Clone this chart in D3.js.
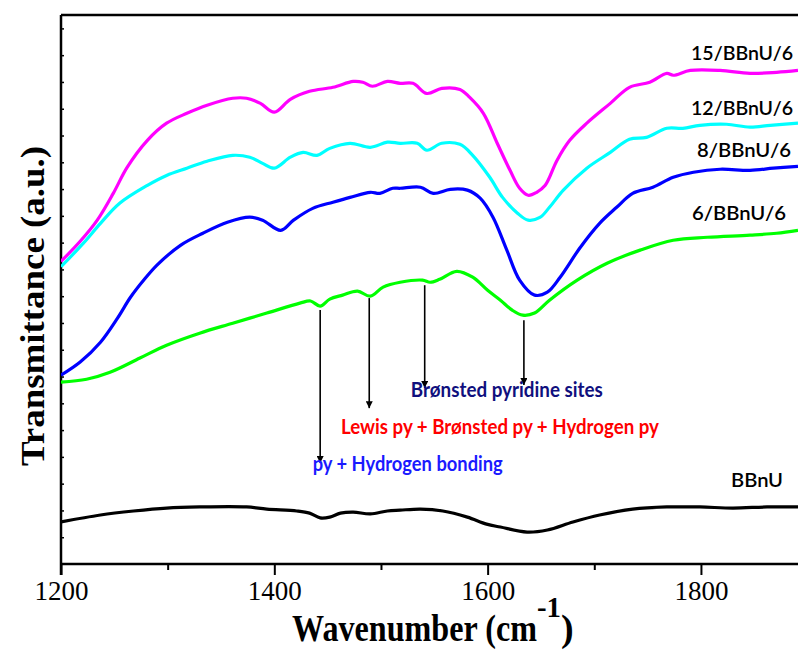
<!DOCTYPE html>
<html>
<head>
<meta charset="utf-8">
<script src="https://cdn.jsdelivr.net/npm/d3@7"></script>
<style>
  html, body { margin: 0; padding: 0; background: #fff; }
  svg { display: block; }
</style>
</head>
<body>
<svg id="chart" width="798" height="650"></svg>
<script>
// ---- Data (wavenumber in cm^-1, transmittance in arbitrary offset units) ----
const xTicksMajor = [1200, 1400, 1600, 1800];
const xTicksMinor = [1300, 1500, 1700];
const yTicks = d3.range(1, 21);

const wn15 = [1200,1218,1234,1249,1262,1281,1299,1318,1337,1361,1374,1387,1400,1415,1433,1455,1474,1483,1492,1506,1518,1530,1543,1557,1574,1583,1596,1609,1621,1630,1638,1646,1654,1665,1677,1693,1715,1733,1752,1768,1774,1790,1818,1846,1871,1891];
const t15  = [11.3,12.05,12.84,13.84,14.81,15.82,16.46,16.83,17.13,17.39,17.39,17.20,16.87,17.35,17.65,17.80,18.02,17.99,17.84,18.02,17.95,17.95,17.57,17.76,17.72,17.43,16.83,15.71,14.70,14.03,13.77,13.88,14.14,15.07,15.82,16.46,17.20,17.80,17.99,18.32,18.25,18.43,18.43,18.32,18.36,18.43];

const wn12 = [1200,1221,1237,1255,1281,1299,1318,1337,1361,1377,1389,1400,1415,1427,1440,1452,1471,1490,1506,1518,1534,1543,1557,1574,1586,1602,1614,1628,1638,1649,1658,1671,1693,1715,1733,1749,1768,1783,1799,1824,1846,1865,1891];
const t12  = [11.10,11.98,12.72,13.47,14.14,14.51,14.78,15.04,15.26,15.19,14.96,14.78,15.19,15.37,15.26,15.52,15.71,15.56,15.75,15.71,15.71,15.45,15.71,15.67,15.26,14.44,13.69,13.10,12.84,12.94,13.32,13.96,14.78,15.37,15.86,15.93,16.27,16.27,16.38,16.42,16.31,16.38,16.46];

const wn8 = [1200,1218,1237,1253,1265,1278,1290,1312,1333,1356,1377,1389,1406,1418,1436,1455,1471,1490,1499,1511,1518,1537,1549,1565,1581,1593,1605,1618,1630,1644,1656,1668,1687,1705,1721,1736,1755,1774,1793,1818,1846,1868,1891];
const t8  = [7.05,7.54,8.28,9.18,9.95,10.62,11.16,11.90,12.35,12.76,12.95,12.84,12.46,12.84,13.28,13.51,13.69,13.88,13.84,14.03,14.03,14.07,13.84,13.99,13.96,13.66,12.95,11.72,10.60,10.04,10.15,10.71,11.83,12.72,13.32,13.84,14.07,14.44,14.63,14.74,14.70,14.78,14.85];

const wn6 = [1200,1224,1246,1274,1299,1330,1361,1393,1424,1434,1443,1452,1464,1478,1490,1502,1518,1539,1546,1555,1571,1586,1600,1612,1623,1633,1644,1658,1684,1712,1743,1774,1806,1846,1871,1891];
const t6  = [6.79,6.90,7.16,7.69,8.17,8.62,8.99,9.37,9.74,9.82,9.63,9.89,10.04,10.19,10.00,10.34,10.52,10.60,10.52,10.63,10.93,10.71,10.22,9.85,9.48,9.29,9.37,9.85,10.60,11.23,11.72,12.09,12.20,12.28,12.35,12.46];

const wn0 = [1200,1237,1268,1299,1330,1374,1393,1421,1433,1443,1452,1462,1474,1490,1506,1518,1537,1558,1581,1599,1612,1637,1656,1680,1705,1736,1768,1799,1830,1862,1891];
const t0  = [1.57,1.83,1.98,2.09,2.13,2.13,2.05,1.98,1.90,1.72,1.75,1.90,1.94,1.87,1.98,2.01,2.05,1.98,1.75,1.49,1.38,1.19,1.27,1.57,1.83,2.05,2.13,2.13,2.09,2.13,2.13];

const seriesNames  = ["15/BBnU/6", "12/BBnU/6", "8/BBnU/6", "6/BBnU/6", "BBnU"];
const seriesColors = ["#ff00ff", "#00ffff", "#0000ff", "#00ff00", "#000000"];

// Annotation arrows (wavenumber, start value, end value)
const arrowWN    = [1443, 1489, 1541, 1634];
const arrowStart = [9.48, 9.93, 10.41, 9.10];
const arrowEnd   = [3.77, 5.82, 6.57, 6.68];

const annoTexts  = ["Brønsted pyridine sites", "Lewis py + Brønsted py + Hydrogen py", "py + Hydrogen bonding"];
const annoColors = ["#10107e", "#ff0000", "#1a1aff"];
const annoWN     = [1528, 1462.5, 1436];
const annoVal    = [6.22, 4.84, 3.46];
const annoWidth  = [192, 318, 190];

// ---- Layout ----
const svg = d3.select("#chart");
const L = 61, R = 798, T = 15, B = 564;
const x = d3.scaleLinear().domain([1200, 1891]).range([L, R]);
const y = d3.scaleLinear().domain([0, 20.5]).range([B, T]);

// Axes
const xAxisMajor = d3.axisBottom(x).tickValues(xTicksMajor).tickSize(11).tickPadding(4).tickFormat(d3.format("d"));
const gx = svg.append("g").attr("transform", `translate(0,${B})`).call(xAxisMajor);
gx.select(".domain").remove();
gx.selectAll(".tick line").attr("stroke", "#000").attr("stroke-width", 2);
gx.selectAll(".tick text").attr("font-family", "'Liberation Serif', 'Times New Roman', serif")
  .attr("font-size", 27).attr("fill", "#000").attr("dy", "0.78em");

const gxm = svg.append("g").attr("transform", `translate(0,${B})`)
  .call(d3.axisBottom(x).tickValues(xTicksMinor).tickSize(6).tickFormat(""));
gxm.select(".domain").remove();
gxm.selectAll(".tick line").attr("stroke", "#000").attr("stroke-width", 2);

const gy = svg.append("g").attr("transform", `translate(${L},0)`)
  .call(d3.axisRight(y).tickValues(yTicks).tickSize(3).tickFormat(""));
gy.select(".domain").remove();
gy.selectAll(".tick line").attr("stroke", "#000").attr("stroke-width", 1.5);

// Frame lines (left, bottom, top)
svg.append("line").attr("x1", L).attr("x2", L).attr("y1", T).attr("y2", B + 11).attr("stroke", "#000").attr("stroke-width", 2.5);
svg.append("line").attr("x1", L).attr("x2", R).attr("y1", B).attr("y2", B).attr("stroke", "#000").attr("stroke-width", 2.5);
svg.append("line").attr("x1", L).attr("x2", R).attr("y1", T).attr("y2", T).attr("stroke", "#000").attr("stroke-width", 2.5);

// Curves
const seriesWN = [wn15, wn12, wn8, wn6, wn0];
const seriesT  = [t15, t12, t8, t6, t0];
const line = d3.line().x(d => x(d[0])).y(d => y(d[1])).curve(d3.curveCatmullRom.alpha(0.5));
svg.append("clipPath").attr("id", "plotclip").append("rect")
  .attr("x", L).attr("y", T).attr("width", R - L).attr("height", B - T);
seriesWN.forEach((wns, i) => {
  const pts = wns.map((w, j) => [w, seriesT[i][j]]);
  svg.append("path").datum(pts).attr("d", line)
    .attr("fill", "none").attr("stroke", seriesColors[i]).attr("stroke-width", 3.2)
    .attr("stroke-linejoin", "round").attr("clip-path", "url(#plotclip)");
});

// Series labels
const labelX = [691, 691, 697, 692, 731];
const labelY = [60, 115, 157, 220, 487];
const labelW = [102, 102, 94, 94, 52];
seriesNames.forEach((n, i) => {
  svg.append("text").attr("x", labelX[i]).attr("y", labelY[i])
    .attr("font-family", "Lato, 'Open Sans', sans-serif").attr("font-size", 20).attr("font-weight", 600)
    .attr("fill", "#000").attr("textLength", labelW[i]).attr("lengthAdjust", "spacingAndGlyphs")
    .text(n);
});

// Arrows
const defs = svg.append("defs");
defs.append("marker").attr("id", "arrowhead").attr("viewBox", "0 0 10 10")
  .attr("refX", 10).attr("refY", 5).attr("markerWidth", 13).attr("markerHeight", 7)
  .attr("markerUnits", "userSpaceOnUse").attr("orient", "auto")
  .append("path").attr("d", "M0,0 L10,5 L0,10 Z").attr("fill", "#000");
arrowWN.forEach((w, i) => {
  svg.append("line").attr("x1", x(w)).attr("x2", x(w))
    .attr("y1", y(arrowStart[i])).attr("y2", y(arrowEnd[i]))
    .attr("stroke", "#000").attr("stroke-width", 1.6)
    .attr("marker-end", "url(#arrowhead)");
});

// Annotation texts
annoTexts.forEach((t, i) => {
  svg.append("text").attr("x", x(annoWN[i])).attr("y", y(annoVal[i]))
    .attr("font-family", "Lato, 'Open Sans', sans-serif").attr("font-size", 20).attr("font-weight", "bold")
    .attr("fill", annoColors[i]).attr("textLength", annoWidth[i]).attr("lengthAdjust", "spacingAndGlyphs")
    .text(t);
});

// Axis titles
const serif = "'Liberation Serif', 'Times New Roman', serif";
const xt = svg.append("text").attr("x", 292).attr("y", 641)
  .attr("font-family", serif).attr("font-weight", "bold").attr("fill", "#000");
xt.append("tspan").attr("font-size", 38).attr("textLength", 245).attr("lengthAdjust", "spacingAndGlyphs").text("Wavenumber (cm");
xt.append("tspan").attr("font-size", 30).attr("dy", -24).attr("textLength", 24).attr("lengthAdjust", "spacingAndGlyphs").text("-1");
xt.append("tspan").attr("font-size", 38).attr("dy", 24).text(")");

svg.append("text").attr("transform", "translate(44,306) rotate(-90)")
  .attr("text-anchor", "middle")
  .attr("font-family", serif).attr("font-size", 34).attr("font-weight", "bold")
  .attr("fill", "#000").attr("textLength", 320).attr("lengthAdjust", "spacingAndGlyphs")
  .text("Transmittance (a.u.)");
</script>
</body>
</html>
